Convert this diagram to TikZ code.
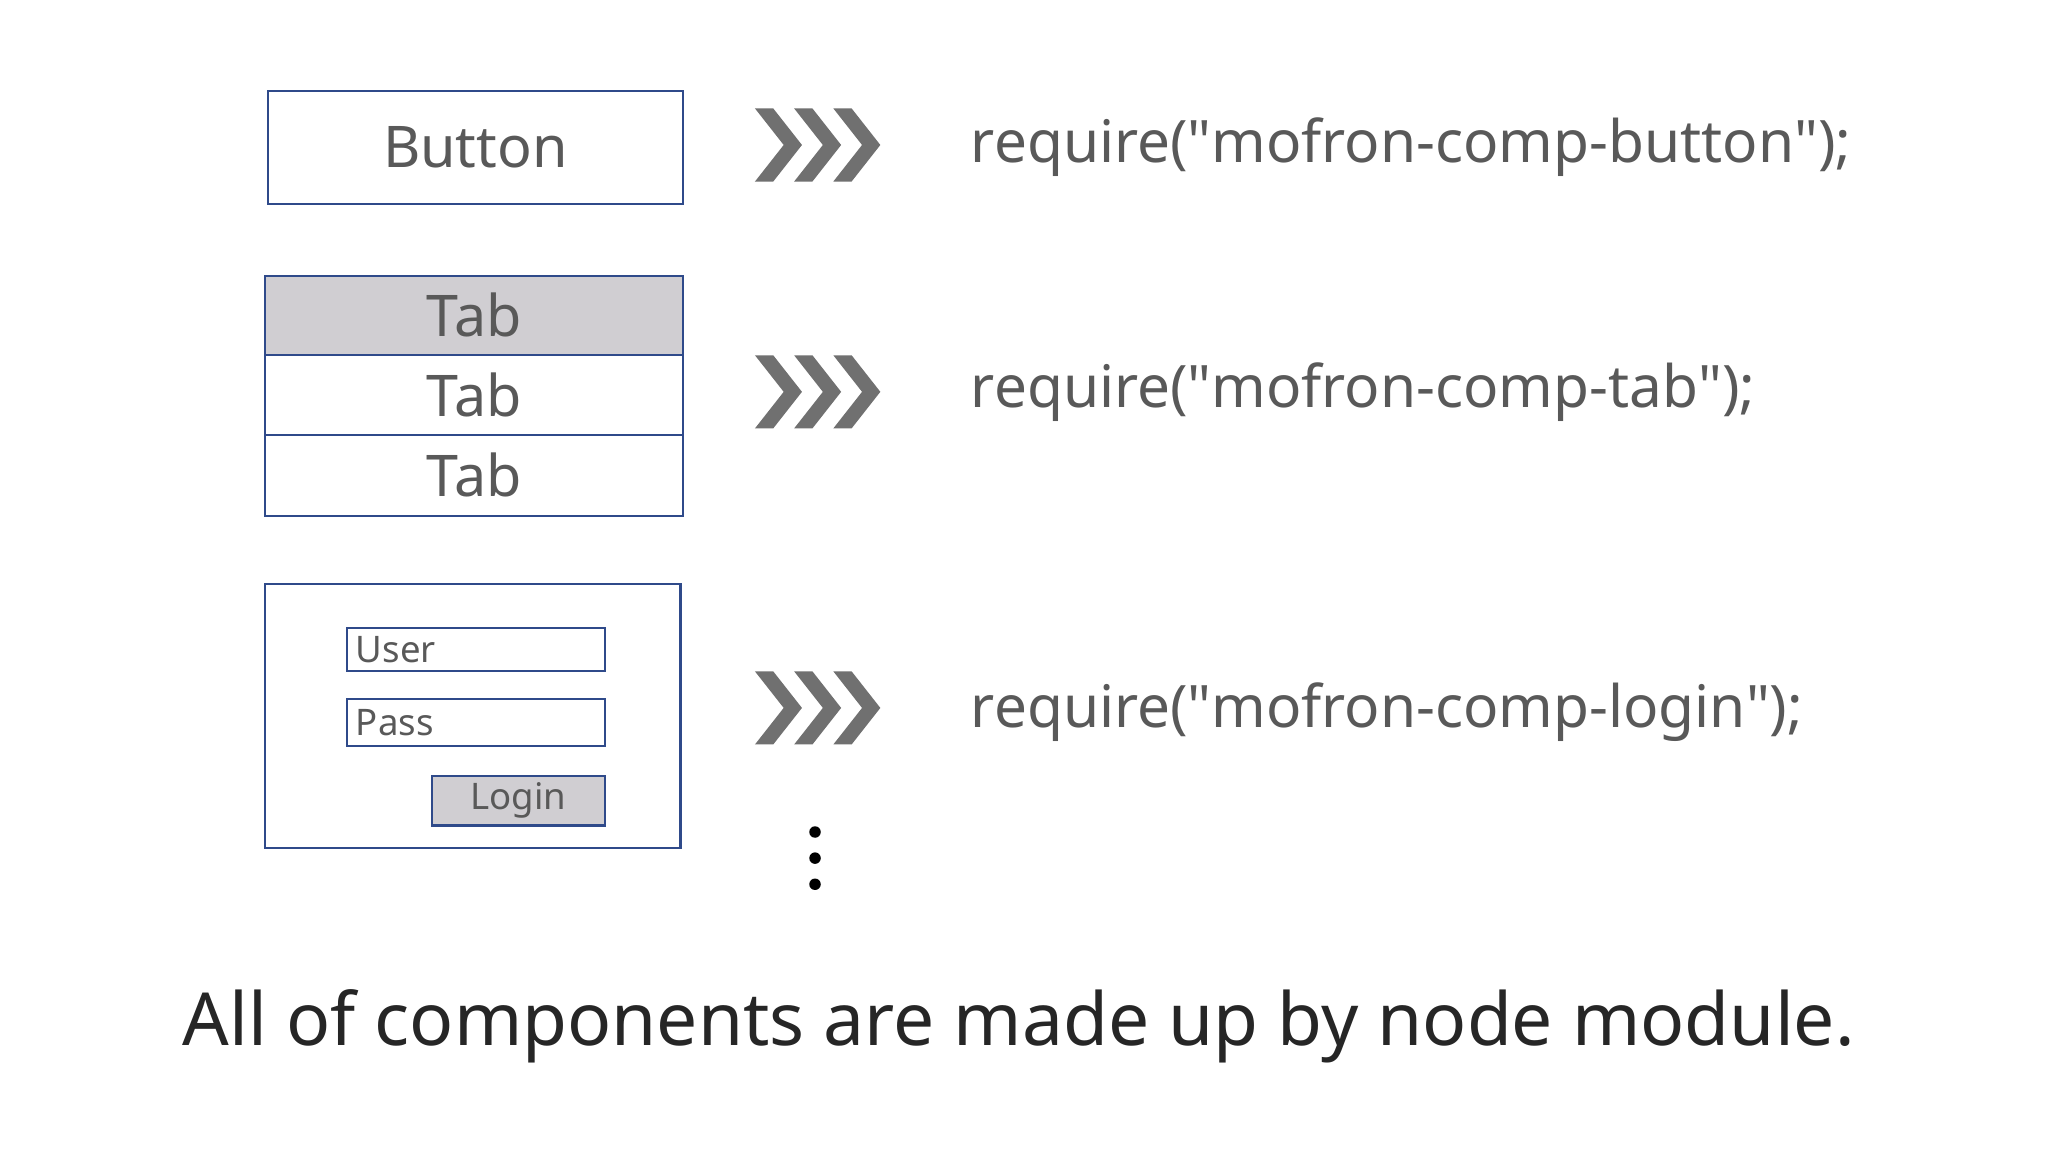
\documentclass[tikz,border=0pt]{standalone}
\usepackage{fontspec}
\setmainfont{Noto Sans}
\newfontfamily\qf{Noto Sans}
\definecolor{bl}{HTML}{2F4A8A}
\definecolor{gf}{HTML}{D0CED2}
\definecolor{tx}{HTML}{595959}
\definecolor{cv}{HTML}{707070}
\newcommand{\dq}{{\qf"}}
\begin{document}
\begin{tikzpicture}[x=0.5pt,y=-0.5pt,
  box/.style={draw=bl,line width=0.8pt,inner sep=0pt,text=tx,font=\fontsize{22}{26}\selectfont},
  small/.style={font=\fontsize{14}{17}\selectfont},
  req/.style={anchor=west,text=tx,font=\fontsize{22.4}{26}\selectfont,inner sep=0pt}]
\useasboundingbox[fill=white] (0,0) rectangle (1568,882);
\node[box,minimum width=159pt,minimum height=43pt] (btn) at (364,113) {Button};
\node[box,fill=gf,minimum width=160pt,minimum height=30.5pt] (t1) at (363,241.5) {Tab};
\node[box,minimum width=160pt,minimum height=30.5pt] (t2) at (363,302.5) {Tab};
\node[box,minimum width=160pt,minimum height=31pt] (t3) at (363,364) {Tab};
\node[box,minimum width=159pt,minimum height=101pt] (lg) at (362,548) {};
\node[box,small,minimum width=98.5pt,minimum height=16.5pt,text width=92pt,align=left] (us) at (364.5,497.5) {User};
\node[box,small,minimum width=98.5pt,minimum height=18pt,text width=92pt,align=left] (ps) at (364.5,553) {Pass};
\node[box,small,fill=gf,minimum width=66pt,minimum height=19pt] (lb) at (397,613) {Login};
\foreach \yy/\nm in {111/c1,300/c2,542/c3}{
  \foreach \dx in {0,30,60}{
    \fill[cv] (578+\dx,\yy-28) -- (592+\dx,\yy-28) -- (614+\dx,\yy) -- (592+\dx,\yy+28) -- (578+\dx,\yy+28) -- (600+\dx,\yy) -- cycle;
  }
  \coordinate (\nm) at (626,\yy);
}
\node[req] (r1) at (743,113) {require(\dq mofron-comp-button\dq);};
\node[req] (r2) at (743,300) {require(\dq mofron-comp-tab\dq);};
\node[req] (r3) at (743,545) {require(\dq mofron-comp-login\dq);};
\foreach \yy in {637,657,677} \fill (624,\yy) circle (2.2pt);
\node[font=\fontsize{28}{34}\selectfont,text=black!85] (cap) at (780,786) {All of components are made up by node module.};
\end{tikzpicture}
\end{document}
